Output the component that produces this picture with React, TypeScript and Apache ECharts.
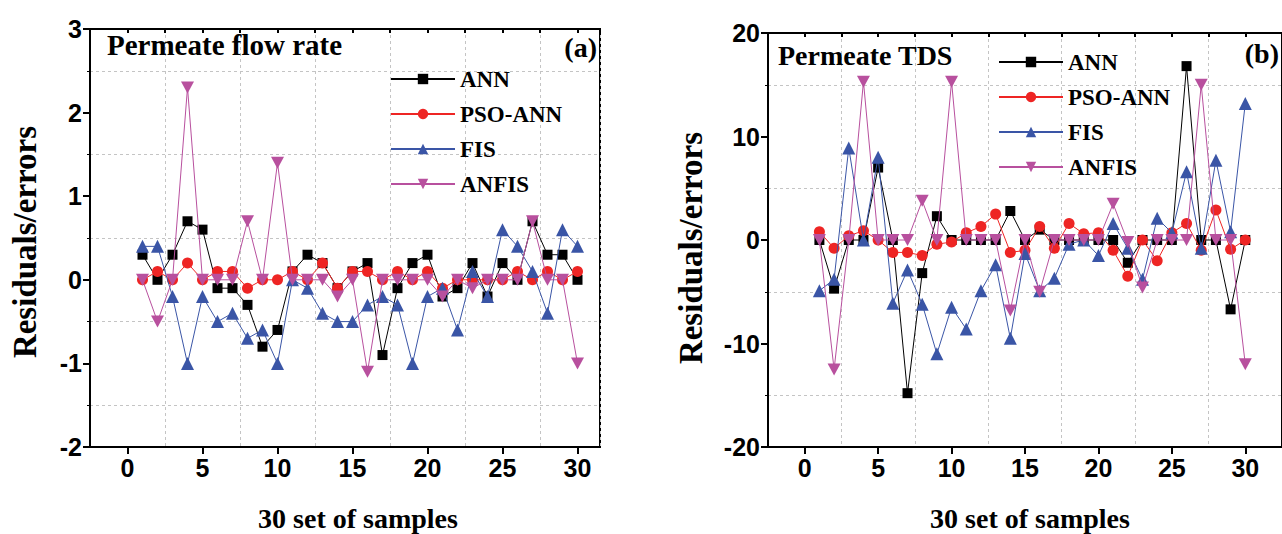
import React, { useEffect, useRef } from "react";
import * as echarts from "echarts";

const samples = [1, 2, 3, 4, 5, 6, 7, 8, 9, 10, 11, 12, 13, 14, 15, 16, 17, 18, 19, 20, 21, 22, 23, 24, 25, 26, 27, 28, 29, 30];
const seriesNames = ["ANN", "PSO-ANN", "FIS", "ANFIS"];

// (a) Permeate flow rate
const flowANN = [0.3, 0, 0.3, 0.7, 0.6, -0.1, -0.1, -0.3, -0.8, -0.6, 0.1, 0.3, 0.2, -0.1, 0.1, 0.2, -0.9, -0.1, 0.2, 0.3, -0.2, -0.1, 0.2, -0.2, 0.2, 0, 0.7, 0.3, 0.3, 0];
const flowPSO = [0, 0.1, 0, 0.2, 0, 0.1, 0.1, -0.1, 0, 0, 0.1, 0, 0.2, -0.1, 0.1, 0.1, 0, 0.1, 0, 0.1, -0.1, 0, 0, 0, 0, 0.1, 0, 0.1, 0, 0.1];
const flowFIS = [0.4, 0.4, -0.2, -1.0, -0.2, -0.5, -0.4, -0.7, -0.6, -1.0, 0, -0.1, -0.4, -0.5, -0.5, -0.3, -0.2, -0.3, -1.0, -0.2, -0.1, -0.6, 0.1, -0.2, 0.6, 0.4, 0.1, -0.4, 0.6, 0.4];
const flowANFIS = [0, -0.5, 0, 2.3, 0, 0, 0, 0.7, 0, 1.4, 0, 0, 0, -0.2, 0, -1.1, 0, 0, 0, 0, -0.2, 0, -0.1, 0, 0, 0, 0.7, 0, 0, -1.0];

// (b) Permeate TDS
const tdsANN = [0, -4.7, 0, 0, 7.0, 0, -14.8, -3.2, 2.3, 0, 0, 0, 0, 2.8, 0, 1.0, 0, 0, 0, 0, 0, -2.2, 0, 0, 0, 16.8, 0, 0, -6.7, 0];
const tdsPSO = [0.8, -0.8, 0.4, 0.9, 0, -1.2, -1.2, -1.5, -0.4, -0.2, 0.7, 1.3, 2.5, -1.2, -1.0, 1.3, -0.8, 1.6, 0.6, 0.7, -1.0, -3.5, 0, -2.0, 0.7, 1.6, -1.0, 2.9, -0.9, 0];
const tdsFIS = [-4.9, -3.8, 8.9, 0, 8.0, -6.1, -2.9, -6.2, -11.0, -6.5, -8.6, -4.9, -2.4, -9.5, -1.3, -4.9, -3.7, -0.4, 0, -1.5, 1.6, -0.8, -3.8, 2.1, 0.7, 6.6, -0.8, 7.7, 0.8, 13.2];
const tdsANFIS = [0, -12.5, 0, 15.3, 0, 0, 0, 3.8, 0, 15.3, 0, 0, 0, -6.8, 0, -5.0, 0, 0, 0, 0, 3.5, -0.2, -4.6, 0, 0, 0, 15.0, 0, 0, -12.0];

const xTickValues = [0, 5, 10, 15, 20, 25, 30];

const colors = ["#000000", "#ee2524", "#3a55a6", "#b8509e"];
const symbols = ["rect", "circle", "triangle", "path://M0,0 L10,0 L5,9 Z"];
const symbolSizes: any[] = [10, 11, 13, [13, 12]];

const SANS = '"Liberation Sans", Arial, sans-serif';
const SERIF = '"Liberation Serif", "Times New Roman", serif';

function makeSeries(gridIdx: number, data: number[][]) {
  return data.map((vals, k) => ({
    name: seriesNames[k],
    type: "line",
    xAxisIndex: gridIdx * 2,
    yAxisIndex: gridIdx,
    data: samples.map((s, i) => [s, vals[i]]),
    symbol: symbols[k],
    symbolSize: symbolSizes[k],
    showSymbol: true,
    itemStyle: { color: colors[k] },
    lineStyle: { color: colors[k], width: 1 },
    z: 3 + k,
  }));
}

function xAxes(gridIdx: number, max: number) {
  return [
    {
      type: "value",
      gridIndex: gridIdx,
      position: "bottom",
      min: -2.5,
      max,
      interval: 2.5,
      axisLine: { show: true, onZero: false, lineStyle: { color: "#000", width: 2 } },
      axisTick: { show: true, length: 7, lineStyle: { color: "#000", width: 2 }, customValues: xTickValues },
      axisLabel: {
        customValues: xTickValues,
        formatter: (v: number) => (v % 5 === 0 ? String(v) : ""),
        fontFamily: SANS,
        fontWeight: "bold",
        fontSize: 25,
        color: "#000",
        margin: 8,
      },
      splitLine: { show: false },
    },
    {
      type: "value",
      gridIndex: gridIdx,
      position: "top",
      min: -2.5,
      max,
      interval: 5,
      axisLine: { show: true, onZero: false, lineStyle: { color: "#000", width: 2 } },
      axisTick: { show: true, inside: true, length: 4, lineStyle: { color: "#000", width: 2 } },
      minorTick: { show: true, splitNumber: 2, length: 4, lineStyle: { color: "#000", width: 2 } },
      axisLabel: { show: false },
      splitLine: { show: true, lineStyle: { color: "#c4c4c4", width: 1, type: [3, 3] } },
    },
  ];
}

function yAxis(gridIdx: number, min: number, max: number, interval: number) {
  return {
    type: "value",
    gridIndex: gridIdx,
    min,
    max,
    interval,
    axisLine: { show: true, onZero: false, lineStyle: { color: "#000", width: 2 } },
    axisTick: { show: true, length: 7, lineStyle: { color: "#000", width: 2 } },
    minorTick: { show: true, splitNumber: 2, length: 3, lineStyle: { color: "#000", width: 1 } },
    axisLabel: { fontFamily: SANS, fontWeight: "bold", fontSize: 25, color: "#000", margin: 8 },
    splitLine: { show: false },
    minorSplitLine: { show: true, lineStyle: { color: "#c4c4c4", width: 1, type: [3, 3] } },
  };
}

function legend(left: number, top: number) {
  return {
    orient: "vertical",
    left,
    top,
    itemWidth: 64,
    itemHeight: 13,
    itemGap: 11,
    data: seriesNames,
    textStyle: { fontFamily: SERIF, fontWeight: "bold", fontSize: 23, color: "#000", lineHeight: 24 },
    selectedMode: false,
  };
}

function txt(x: number, y: number, text: string, size: number, align = "left", rotation = 0) {
  return {
    type: "text",
    x,
    y,
    rotation,
    z: 100,
    style: {
      text,
      fill: "#000",
      font: `bold ${size}px ${SERIF}`,
      align,
      verticalAlign: "middle",
    },
  };
}

export default function App() {
  const ref = useRef<HTMLDivElement>(null);
  useEffect(() => {
    if (!ref.current) return;
    const chart = echarts.init(ref.current, null, { renderer: "svg" });
    chart.setOption({
      animation: false,
      backgroundColor: "#fff",
      grid: [
        { left: 90, top: 29, width: 510, height: 418, show: true, borderColor: "#000", borderWidth: 2, backgroundColor: "transparent" },
        { left: 768, top: 33, width: 522, height: 414, show: true, borderColor: "#000", borderWidth: 2, backgroundColor: "transparent" },
      ],
      xAxis: [...xAxes(0, 31.5), ...xAxes(1, 32.5)],
      yAxis: [yAxis(0, -2, 3, 1), yAxis(1, -20, 20, 10)],
      legend: [legend(385, 62), legend(993, 45)],
      series: [
        ...makeSeries(0, [flowANN, flowPSO, flowFIS, flowANFIS]),
        ...makeSeries(1, [tdsANN, tdsPSO, tdsFIS, tdsANFIS]),
      ],
      graphic: [
        txt(107, 45, "Permeate flow rate", 29),
        txt(597, 47, "(a)", 28, "right"),
        txt(778, 55, "Permeate TDS", 28),
        txt(1279, 53, "(b)", 28, "right"),
        txt(358, 518, "30 set of samples", 28, "center"),
        txt(1030, 518, "30 set of samples", 28, "center"),
        txt(25, 242, "Residuals/errors", 33, "center", Math.PI / 2),
        txt(691, 248, "Residuals/errors", 33, "center", Math.PI / 2),
      ],
    });
    return () => chart.dispose();
  }, []);
  return <div ref={ref} style={{ position: "absolute", left: 0, top: 0, width: 1282, height: 534 }} />;
}
